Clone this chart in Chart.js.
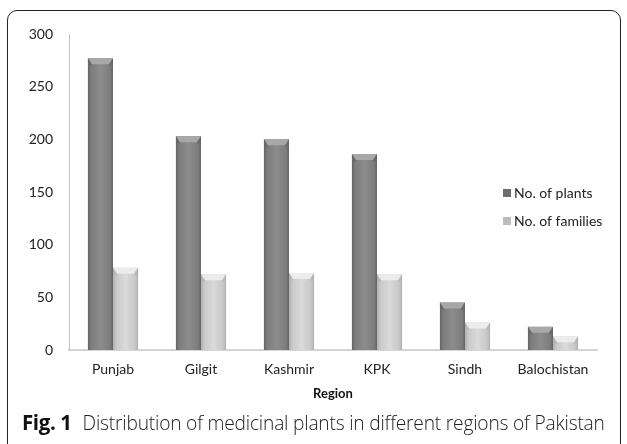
<!DOCTYPE html>
<html>
<head>
<meta charset="utf-8">
<script src="https://cdn.jsdelivr.net/npm/chart.js@4.4.0/dist/chart.umd.min.js"></script>
<style>
  html,body{margin:0;padding:0;background:#fff;width:627px;height:444px;overflow:hidden;}
  #wrap{position:relative;width:627px;height:444px;}
  #frame{position:absolute;left:7px;top:10px;width:614px;height:445px;border:1px solid #222;border-radius:10px;box-sizing:border-box;}
  canvas{position:absolute;left:0;top:0;}
  #caption{position:absolute;left:22px;top:409px;font-family:"Open Sans",sans-serif;font-size:19.2px;color:#222;white-space:nowrap;letter-spacing:-0.2px;line-height:26px;}
  #caption b{font-weight:700;font-size:20.5px;margin-right:11px;letter-spacing:-0.4px;color:#111;}
  #caption span{font-weight:300;}
</style>
</head>
<body>
<div id="wrap">
  <div id="frame"></div>
  <canvas id="c" width="627" height="444"></canvas>
  <div id="caption"><b>Fig. 1</b><span>Distribution of medicinal plants in different regions of Pakistan</span></div>
</div>
<script>
const regions = ["Punjab", "Gilgit", "Kashmir", "KPK", "Sindh", "Balochistan"];
const plants = [277, 203, 200, 186, 45, 22];
const families = [78, 72, 73, 72, 26, 13];
const seriesNames = ["No. of plants", "No. of families"];
const yTicks = [0, 50, 100, 150, 200, 250, 300];
const axisTitle = "Region";

const CAT_PCT = 0.57;
const shades = [
  {edge:"#646464", mid:"#8c8c8c", flat:"#7c7c7c", top:"#a8a8a8", legend:"#6e6e6e"},
  {edge:"#b0b0b0", mid:"#dadada", flat:"#c8c8c8", top:"#ececec", legend:"#bdbdbd"}
];

function gradFor(dsIndex) {
  return (ctx) => {
    const chart = ctx.chart, xs = chart.scales.x;
    const s = shades[dsIndex];
    if (!xs || ctx.dataIndex == null || !isFinite(xs.width)) return s.flat;
    const catW = xs.width / regions.length;
    const barW = catW * CAT_PCT / 2;
    const cx = xs.getPixelForValue(ctx.dataIndex) + (dsIndex - 0.5) * barW;
    const g = chart.ctx.createLinearGradient(cx - barW / 2, 0, cx + barW / 2, 0);
    g.addColorStop(0, s.edge);
    g.addColorStop(0.12, s.flat);
    g.addColorStop(0.5, s.mid);
    g.addColorStop(0.88, s.flat);
    g.addColorStop(1, s.edge);
    return g;
  };
}

const bevelPlugin = {
  id: 'bevel',
  afterDatasetsDraw(chart) {
    const c = chart.ctx;
    chart.data.datasets.forEach((ds, di) => {
      const meta = chart.getDatasetMeta(di);
      meta.data.forEach(el => {
        const {x, y, width} = el.getProps(['x', 'y', 'width'], true);
        const l = x - width / 2, r = x + width / 2, h = 6;
        c.save();
        c.fillStyle = shades[di].top;
        c.beginPath();
        c.moveTo(l, y); c.lineTo(r, y); c.lineTo(r - 4, y + h); c.lineTo(l + 4, y + h); c.closePath();
        c.fill();
        c.fillStyle = shades[di].edge;
        c.globalAlpha = 0.6;
        c.beginPath();
        c.moveTo(l, y); c.lineTo(l + 4, y + h); c.lineTo(l + 4, y + h + 2); c.lineTo(l, y + h); c.closePath(); c.fill();
        c.beginPath();
        c.moveTo(r, y); c.lineTo(r - 4, y + h); c.lineTo(r - 4, y + h + 2); c.lineTo(r, y + h); c.closePath(); c.fill();
        c.restore();
      });
    });
  }
};

const legendPlugin = {
  id: 'sideLegend',
  afterDraw(chart) {
    const c = chart.ctx;
    c.save();
    c.font = '14px Lato, sans-serif';
    c.textBaseline = 'middle';
    c.textAlign = 'left';
    chart.data.datasets.forEach((ds, i) => {
      const y = 193 + i * 28;
      c.fillStyle = shades[i].legend;
      c.fillRect(503, y - 4, 8, 8);
      c.fillStyle = '#222';
      c.fillText(ds.label, 514, y);
    });
    c.restore();
  }
};

new Chart(document.getElementById('c'), {
  type: 'bar',
  data: {
    labels: regions,
    datasets: [
      {label: seriesNames[0], data: plants, backgroundColor: gradFor(0), borderWidth: 0},
      {label: seriesNames[1], data: families, backgroundColor: gradFor(1), borderWidth: 0}
    ]
  },
  options: {
    responsive: false,
    animation: false,
    events: [],
    datasets: {bar: {categoryPercentage: CAT_PCT, barPercentage: 1}},
    layout: {padding: {left: 0, right: 30, top: 34, bottom: 42}},
    plugins: {legend: {display: false}, tooltip: {enabled: false}, title: {display: false}},
    scales: {
      x: {
        grid: {display: false, drawTicks: false},
        border: {display: true, color: '#d4d4d4', width: 2},
        ticks: {color: '#222', font: {family: 'Lato', size: 14}, padding: 11, maxRotation: 0},
        title: {display: true, text: axisTitle, color: '#111', font: {family: 'Lato', size: 13, weight: 'bold'}, padding: {top: 0, bottom: 0}},
        afterFit(s) { s.height = 52; }
      },
      y: {
        min: 0, max: 300,
        afterBuildTicks(s) { s.ticks = yTicks.map(v => ({value: v})); },
        grid: {display: false, drawTicks: false},
        border: {display: true, color: '#c4c4c4', width: 1},
        ticks: {color: '#222', font: {family: 'Lato', size: 14}, padding: 16},
        afterFit(s) { s.width = 69; }
      }
    }
  },
  plugins: [bevelPlugin, legendPlugin]
});
</script>
</body>
</html>
